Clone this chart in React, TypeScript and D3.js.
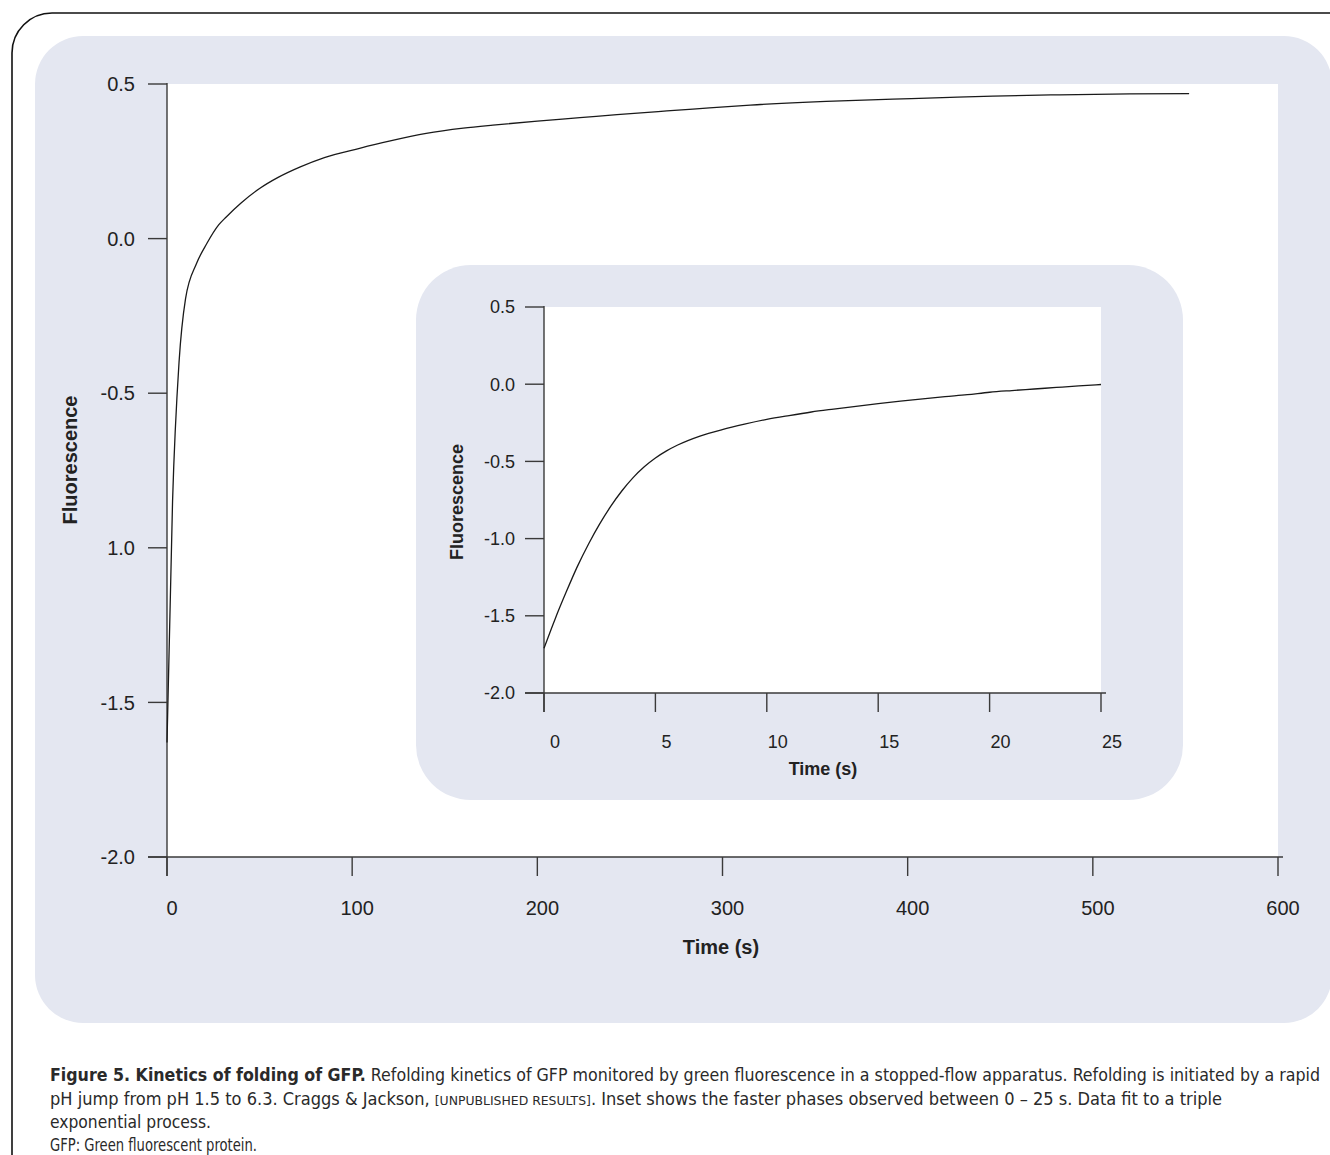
import React from "react";
import * as d3 from "d3";

// ---------- data ----------
const mainTime = [0, 3, 6.5, 10, 16, 21.5, 28, 32, 40, 50, 60, 72, 85, 104, 120, 140, 160, 176, 200, 223, 243, 270, 284, 315, 356, 392, 423, 446, 482, 520, 552];
const mainFluor = [-1.63, -0.85, -0.4, -0.195, -0.08, -0.016, 0.045, 0.07, 0.115, 0.162, 0.198, 0.232, 0.262, 0.292, 0.315, 0.34, 0.357, 0.367, 0.38, 0.391, 0.401, 0.413, 0.419, 0.432, 0.444, 0.451, 0.457, 0.461, 0.465, 0.468, 0.469];

const insetTime = [0, 0.5, 1, 1.5, 2, 2.5, 3, 3.5, 4, 4.5, 5, 5.5, 6, 7, 8, 9, 10, 11, 12, 13, 14, 15, 16, 17, 18, 19, 20, 21, 22, 23, 24, 25];
const insetFluor = [-1.71, -1.52, -1.345, -1.18, -1.035, -0.905, -0.79, -0.69, -0.605, -0.535, -0.478, -0.432, -0.394, -0.336, -0.294, -0.259, -0.228, -0.203, -0.18, -0.161, -0.143, -0.126, -0.11, -0.095, -0.081, -0.068, -0.052, -0.041, -0.031, -0.021, -0.011, -0.002];

const yTicks = [0.5, 0, -0.5, -1, -1.5, -2];
const mainYTickLabels = ["0.5", "0.0", "-0.5", "1.0", "-1.5", "-2.0"];
const insetYTickLabels = ["0.5", "0.0", "-0.5", "-1.0", "-1.5", "-2.0"];
const mainXTicks = [0, 100, 200, 300, 400, 500, 600];
const insetXTicks = [0, 5, 10, 15, 20, 25];

const axisTitleX = "Time (s)";
const axisTitleY = "Fluorescence";

const captionBold = "Figure 5. Kinetics of folding of GFP.";
const captionLine1 = " Refolding kinetics of GFP monitored by green fluorescence in a stopped-flow apparatus. Refolding is initiated by a rapid";
const captionLine2a = "pH jump from pH 1.5 to 6.3. Craggs & Jackson, ";
const captionLine2b = "[UNPUBLISHED RESULTS]";
const captionLine2c = ". Inset shows the faster phases observed between 0 \u2013 25 s. Data fit to a triple";
const captionLine3 = "exponential process.";
const captionLine4 = "GFP: Green fluorescent protein.";

const PANEL = "#e4e7f1";
const AXIS = "#3a3a3a";
const TXT = "#222";
const SANS = "'Liberation Sans', Arial, Helvetica, sans-serif";
const NARROW = "'Liberation Sans Narrow', 'DejaVu Sans Condensed', 'Arial Narrow', 'Liberation Sans', sans-serif";

type PlotProps = {
  xDomain: [number, number];
  x0: number; x1: number; y0: number; y1: number;
  xTicks: number[];
  yTickLabels: string[];
  times: number[];
  values: number[];
  tickLen: number;
  fontSize: number;
  titleSize: number;
  xLabelDx: number;
  xLabelY: number;
  xTitlePos: [number, number];
  yTitlePos: [number, number];
  yLabelGap: number;
};

function Plot(p: PlotProps) {
  const x = d3.scaleLinear().domain(p.xDomain).range([p.x0, p.x1]);
  const y = d3.scaleLinear().domain([-2, 0.5]).range([p.y1, p.y0]);
  const line = d3
    .line<number>()
    .x((_, i) => x(p.times[i]))
    .y((d) => y(d))
    .curve(d3.curveMonotoneX);
  const path = line(p.values) || "";
  return (
    <g>
      <rect x={p.x0} y={p.y0} width={p.x1 - p.x0} height={p.y1 - p.y0} fill="#fff" />
      {/* y axis */}
      <line x1={p.x0} x2={p.x0} y1={y(0.5) - 1} y2={p.y1 + p.tickLen} stroke={AXIS} strokeWidth={1.4} />
      {yTicks.map((t, i) => (
        <g key={"y" + i}>
          <line x1={p.x0 - p.tickLen} x2={p.x0} y1={y(t)} y2={y(t)} stroke={AXIS} strokeWidth={1.4} />
          <text
            x={p.x0 - p.tickLen - p.yLabelGap}
            y={y(t)}
            dy="0.36em"
            textAnchor="end"
            fontFamily={SANS}
            fontSize={p.fontSize}
            fill={TXT}
          >
            {p.yTickLabels[i]}
          </text>
        </g>
      ))}
      {/* x axis */}
      <line x1={p.x0 - p.tickLen} x2={p.x1 + 5} y1={p.y1} y2={p.y1} stroke={AXIS} strokeWidth={1.4} />
      {p.xTicks.map((t, i) => (
        <g key={"x" + i}>
          <line x1={x(t)} x2={x(t)} y1={p.y1} y2={p.y1 + p.tickLen} stroke={AXIS} strokeWidth={1.4} />
          <text
            x={x(t) + p.xLabelDx}
            y={p.xLabelY}
            textAnchor="middle"
            fontFamily={SANS}
            fontSize={p.fontSize}
            fill={TXT}
          >
            {t}
          </text>
        </g>
      ))}
      <path d={path} fill="none" stroke="#1a1a1a" strokeWidth={1.3} />
      <text
        x={p.xTitlePos[0]}
        y={p.xTitlePos[1]}
        textAnchor="middle"
        fontFamily={SANS}
        fontWeight="bold"
        fontSize={p.titleSize}
        fill={TXT}
      >
        {axisTitleX}
      </text>
      <text
        transform={`translate(${p.yTitlePos[0]},${p.yTitlePos[1]}) rotate(-90)`}
        textAnchor="middle"
        dy="0.36em"
        fontFamily={SANS}
        fontWeight="bold"
        fontSize={p.titleSize}
        fill={TXT}
      >
        {axisTitleY}
      </text>
    </g>
  );
}

export default function App() {
  return (
    <svg
      width={1330}
      height={1155}
      style={{ position: "absolute", left: 0, top: 0, background: "#fff" }}
    >
      {/* outer frame */}
      <path d="M12,1160 L12,53 A40,40 0 0 1 52,13 L1335,13" fill="none" stroke="#111" strokeWidth={1.6} />
      {/* main panel */}
      <rect x={35} y={36} width={1297} height={987} rx={48} ry={48} fill={PANEL} />

      <Plot
        xDomain={[0, 600]}
        x0={167} x1={1278} y0={84} y1={857}
        xTicks={mainXTicks}
        yTickLabels={mainYTickLabels}
        times={mainTime}
        values={mainFluor}
        tickLen={19}
        fontSize={20}
        titleSize={20}
        xLabelDx={5}
        xLabelY={915}
        xTitlePos={[721, 954]}
        yTitlePos={[70, 460]}
        yLabelGap={13}
      />

      {/* inset panel */}
      <rect x={416} y={265} width={767} height={535} rx={55} ry={55} fill={PANEL} />
      <Plot
        xDomain={[0, 25]}
        x0={544} x1={1101} y0={307} y1={693}
        xTicks={insetXTicks}
        yTickLabels={insetYTickLabels}
        times={insetTime}
        values={insetFluor}
        tickLen={19}
        fontSize={18}
        titleSize={18}
        xLabelDx={11}
        xLabelY={748}
        xTitlePos={[823, 775]}
        yTitlePos={[457, 502]}
        yLabelGap={10}
      />

      {/* caption */}
      <g fontFamily={NARROW} fontSize={17} fill="#2a2a2a">
        <text x={50} y={1081} textLength={1270} lengthAdjust="spacingAndGlyphs">
          <tspan fontWeight="bold">{captionBold}</tspan>
          <tspan>{captionLine1}</tspan>
        </text>
        <text x={50} y={1105} textLength={1172} lengthAdjust="spacingAndGlyphs">
          <tspan>{captionLine2a}</tspan>
          <tspan fontSize={13}>{captionLine2b}</tspan>
          <tspan>{captionLine2c}</tspan>
        </text>
        <text x={50} y={1128} textLength={161} lengthAdjust="spacingAndGlyphs">
          {captionLine3}
        </text>
        <text x={50} y={1151} textLength={207} lengthAdjust="spacingAndGlyphs">
          {captionLine4}
        </text>
      </g>
    </svg>
  );
}
